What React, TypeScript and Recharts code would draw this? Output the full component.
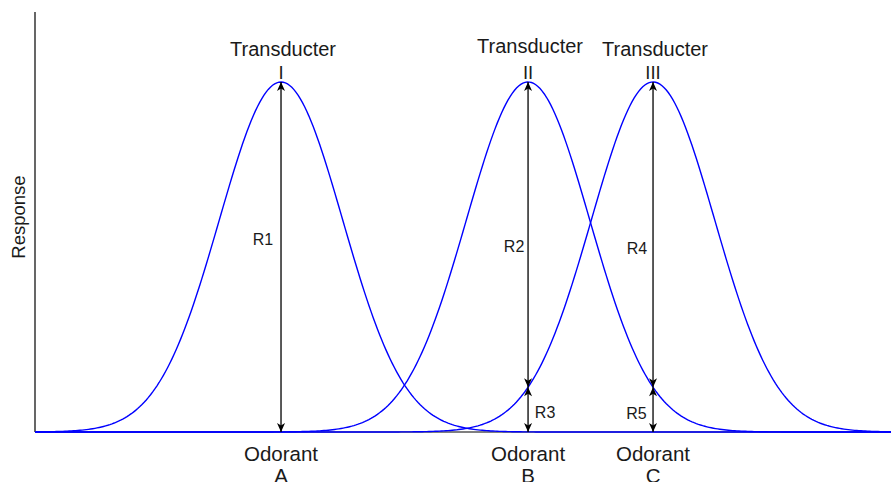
import React from 'react';
import { LineChart, Line, XAxis, YAxis, ReferenceLine, ReferenceDot } from 'recharts';

// ---- data ----
const transducers = ['I', 'II', 'III'];
const odorants = ['A', 'B', 'C'];
const seriesKeys = ['t1', 't2', 't3'];
const peakPositions = [28.74, 57.6, 72.2]; // odorant position of each transducer's peak (x in 0..100)
const peakResponses = [1, 1, 1];
const curveSpreads = [7.2, 7.2, 7.2];
const xDomain = [0, 100];
const yDomain = [0, 1.2];
const responseNames = ['R1', 'R2', 'R3', 'R4', 'R5'];
// arrow: odorant index, lower transducer (-1 = baseline), upper transducer
const arrowOdorant = [0, 1, 1, 2, 2];
const arrowFrom = [-1, 2, -1, 1, -1];
const arrowTo = [0, 1, 2, 2, 1];

// ---- derived ----
const response = (t: number, x: number) =>
  peakResponses[t] * Math.exp(-((x - peakPositions[t]) ** 2) / (2 * curveSpreads[t] ** 2));

const xs: number[] = [];
for (let i = 0; i <= 400; i++) xs.push(xDomain[0] + ((xDomain[1] - xDomain[0]) * i) / 400);
const chartData = xs.map((x) => {
  const row: Record<string, number> = { x };
  seriesKeys.forEach((k, t) => (row[k] = response(t, x)));
  return row;
});

const arrows = responseNames.map((name, i) => {
  const x = peakPositions[arrowOdorant[i]];
  const y1 = arrowFrom[i] < 0 ? 0 : response(arrowFrom[i], x);
  const y2 = response(arrowTo[i], x);
  return { name, x, y1, y2 };
});

// ---- styling ----
const FONT = '"Liberation Sans", Arial, Helvetica, sans-serif';
const TEXT = '#1a1a1a';
const BLUE = '#0000ff';
const labelDx = [-18, -14, 17, -16, -16.5];
const labelDy = [-12, 17, 8, 19, 9];
const topDy = [-26, -29, -26];

const head = (tx: number, ty: number, ux: number, uy: number) => {
  const L = 9, W = 4, N = 2.5;
  const bx = tx - ux * L, by = ty - uy * L;
  const px = -uy, py = ux;
  const nx = tx - ux * (L - N), ny = ty - uy * (L - N);
  return `${tx},${ty} ${bx + px * W},${by + py * W} ${nx},${ny} ${bx - px * W},${by - py * W}`;
};

const ArrowShape = (p: any) => {
  const { x1, y1, x2, y2 } = p;
  const len = Math.hypot(x2 - x1, y2 - y1) || 1;
  const ux = (x2 - x1) / len, uy = (y2 - y1) / len;
  return (
    <g>
      <line x1={x1} y1={y1} x2={x2} y2={y2} stroke="#000" strokeWidth={1.3} />
      <polygon points={head(x2, y2, ux, uy)} fill="#000" />
      <polygon points={head(x1, y1, -ux, -uy)} fill="#000" />
    </g>
  );
};

const textShape = (items: { text: string; dx: number; dy: number; size: number }[]) => (p: any) => (
  <g>
    {items.map((it, i) => (
      <text
        key={i}
        x={p.cx + it.dx}
        y={p.cy + it.dy}
        textAnchor="middle"
        fontFamily={FONT}
        fontSize={it.size}
        fill={TEXT}
      >
        {it.text}
      </text>
    ))}
  </g>
);

export default function App() {
  return (
    <div style={{ position: 'absolute', left: 0, top: 0, width: 891, height: 482, background: '#fff' }}>
      <LineChart
        width={891}
        height={482}
        data={chartData}
        margin={{ top: 12, right: 0, left: 35, bottom: 50 }}
      >
        <XAxis dataKey="x" type="number" domain={xDomain} hide />
        <YAxis type="number" domain={yDomain} hide />
        <ReferenceLine x={xDomain[0]} stroke="#000" strokeWidth={1.2} />
        <ReferenceLine y={0} stroke="#000" strokeWidth={1.2} />
        {seriesKeys.map((k) => (
          <Line
            key={k}
            dataKey={k}
            type="linear"
            stroke={BLUE}
            strokeWidth={1.4}
            dot={false}
            isAnimationActive={false}
          />
        ))}
        {arrows.map((a) => (
          <ReferenceLine
            key={a.name}
            segment={[{ x: a.x, y: a.y1 }, { x: a.x, y: a.y2 }]}
            shape={ArrowShape}
          />
        ))}
        {arrows.map((a, i) => (
          <ReferenceDot
            key={'l' + a.name}
            x={a.x}
            y={(a.y1 + a.y2) / 2}
            r={0}
            shape={textShape([{ text: a.name, dx: labelDx[i], dy: labelDy[i], size: 16 }])}
          />
        ))}
        {transducers.map((t, i) => (
          <ReferenceDot
            key={'t' + t}
            x={peakPositions[i]}
            y={peakResponses[i]}
            r={0}
            shape={textShape([
              { text: 'Transducter', dx: 2, dy: topDy[i], size: 20 },
              { text: t, dx: 0, dy: -3, size: 18.5 },
            ])}
          />
        ))}
        {odorants.map((o, i) => (
          <ReferenceDot
            key={'o' + o}
            x={peakPositions[i]}
            y={0}
            r={0}
            shape={textShape([
              { text: 'Odorant', dx: 0, dy: 29, size: 20.5 },
              { text: o, dx: 0, dy: 51, size: 20.5 },
            ])}
          />
        ))}
      </LineChart>
      <svg style={{ position: 'absolute', left: 0, top: 0 }} width={40} height={482}>
        <text
          x={25}
          y={217}
          transform="rotate(-90 25 217)"
          textAnchor="middle"
          fontFamily={FONT}
          fontSize={18.5}
          fill={TEXT}
        >
          Response
        </text>
      </svg>
    </div>
  );
}
